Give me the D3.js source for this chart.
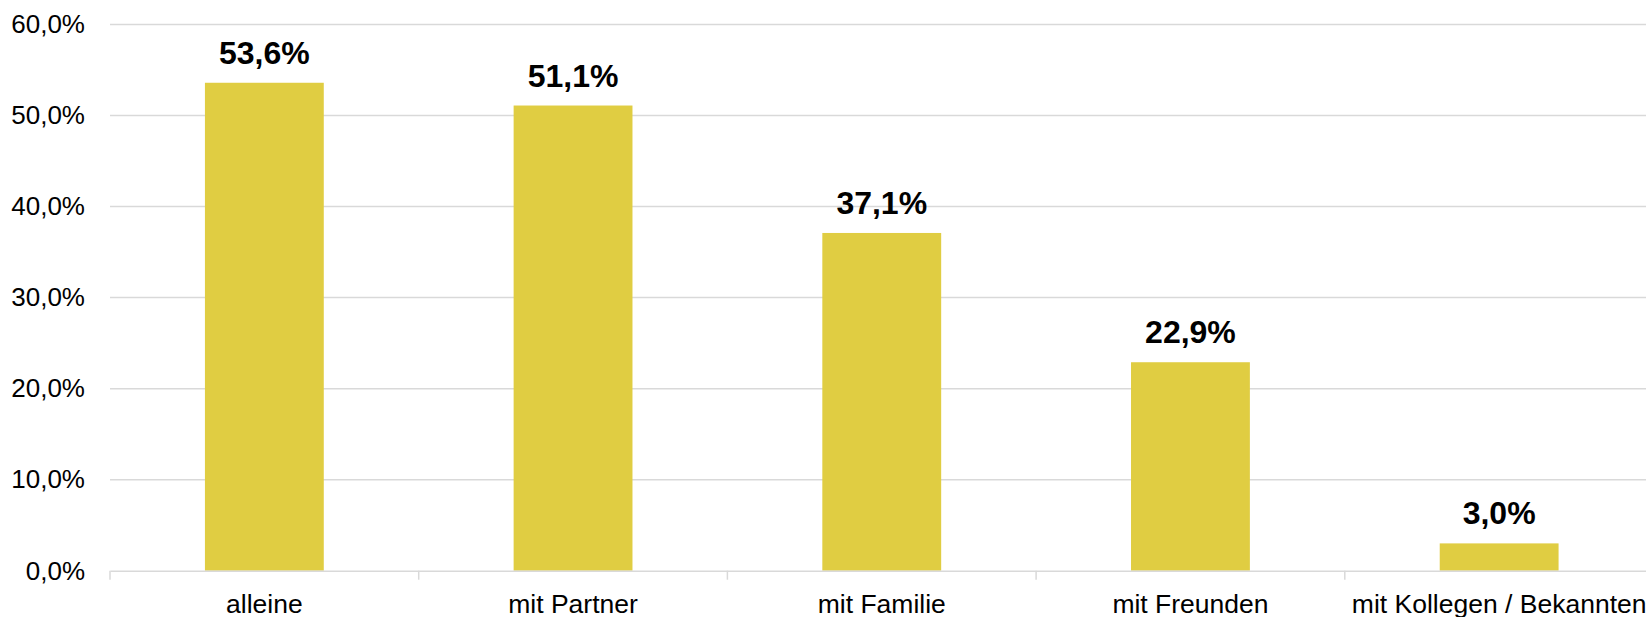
<!DOCTYPE html>
<html>
<head>
<meta charset="utf-8">
<script src="https://cdn.jsdelivr.net/npm/d3@7"></script>
<style>
  html, body { margin: 0; padding: 0; background: #fff; overflow: hidden; }
  svg { display: block; }
</style>
</head>
<body>
<svg id="chart" width="1646" height="617"></svg>
<script>
const categories = ["alleine", "mit Partner", "mit Familie", "mit Freunden", "mit Kollegen / Bekannten"];
const values = [53.6, 51.1, 37.1, 22.9, 3.0];
const yTicks = [0, 10, 20, 30, 40, 50, 60];

const W = 1646, H = 617;
const margin = { left: 110, top: 24.5, bottom: 46.3 };
const plotRight = 1653.5;

const svg = d3.select("#chart");
const fmt = v => d3.format(".1f")(v).replace(".", ",") + "%";

const x = d3.scaleBand().domain(categories).range([margin.left, plotRight]).paddingInner(0.615).paddingOuter(0.3075);
const xb = d3.scaleBand().domain(categories).range([margin.left, plotRight]).padding(0);
const y = d3.scaleLinear().domain([0, 60]).range([H - margin.bottom, margin.top]);

// gridlines
svg.append("g").selectAll("line").data(yTicks.filter(d => d > 0)).join("line")
  .attr("x1", margin.left).attr("x2", plotRight)
  .attr("y1", d => y(d)).attr("y2", d => y(d))
  .attr("stroke", "#d9d9d9").attr("stroke-width", 1.5);

// y axis labels
const yAxis = d3.axisLeft(y).tickValues(yTicks).tickFormat(fmt).tickSize(0).tickPadding(25);
const ya = svg.append("g").attr("transform", `translate(${margin.left},0)`).call(yAxis);
ya.select(".domain").remove();
ya.selectAll("text").attr("font-family", "Liberation Sans, Arial, sans-serif").attr("font-size", 26).attr("fill", "#000");

// bars
svg.append("g").selectAll("rect").data(values).join("rect")
  .attr("x", (d, i) => x(categories[i]))
  .attr("width", x.bandwidth())
  .attr("y", d => y(d))
  .attr("height", d => y(0) - y(d))
  .attr("fill", "#e0cd42");

// x axis
const xAxis = d3.axisBottom(xb).tickSize(0).tickPadding(23);
const xa = svg.append("g").attr("transform", `translate(0,${y(0)})`).call(xAxis);
xa.select(".domain").attr("stroke", "#d9d9d9").attr("stroke-width", 1.5);
xa.selectAll("text").attr("font-family", "Liberation Sans, Arial, sans-serif").attr("font-size", 26.5).attr("fill", "#000");
// boundary tick marks
const bounds = categories.map(c => xb(c)).concat([plotRight]);
xa.append("g").selectAll("line").data(bounds).join("line")
  .attr("x1", d => d).attr("x2", d => d).attr("y1", 0).attr("y2", 9)
  .attr("stroke", "#d9d9d9").attr("stroke-width", 1.5);

// value labels
svg.append("g").selectAll("text").data(values).join("text")
  .attr("x", (d, i) => x(categories[i]) + x.bandwidth() / 2)
  .attr("y", d => y(d) - 19)
  .attr("text-anchor", "middle")
  .attr("font-family", "Liberation Sans, Arial, sans-serif")
  .attr("font-weight", "bold")
  .attr("font-size", 32)
  .attr("fill", "#000")
  .text(d => fmt(d));
</script>
</body>
</html>
